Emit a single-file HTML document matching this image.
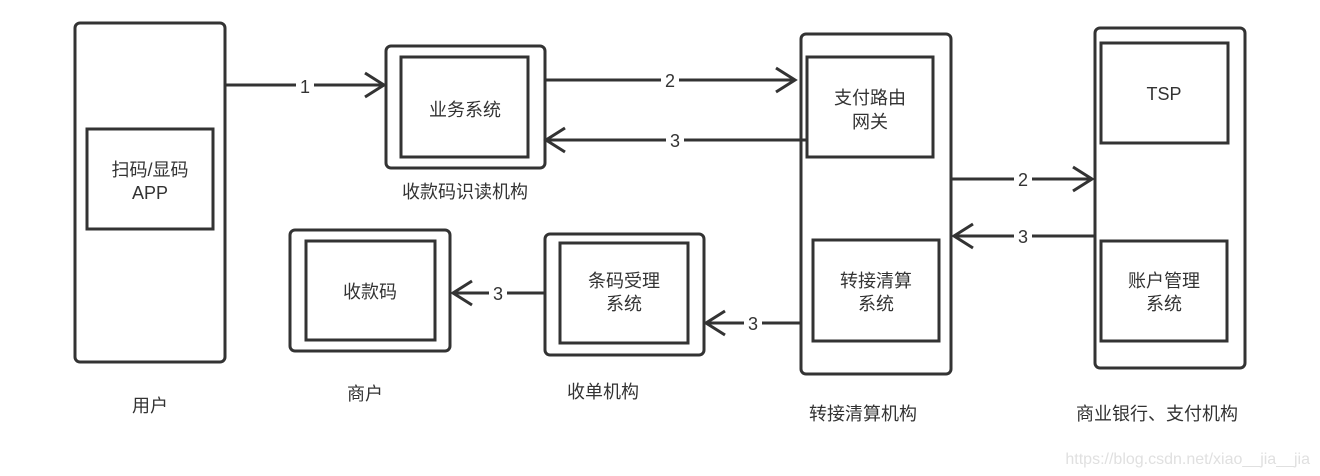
<!DOCTYPE html>
<html><head><meta charset="utf-8"><style>
html,body{margin:0;padding:0;background:#fff;}
svg{display:block;}
text{font-family:"Liberation Sans","Noto Sans CJK SC",sans-serif;fill:#333;font-size:18px;}
</style></head><body>
<svg width="1320" height="476" viewBox="0 0 1320 476" xmlns="http://www.w3.org/2000/svg">
<g fill="none" stroke="#333" stroke-width="3">
<!-- user -->
<rect x="75" y="23" width="150" height="339" rx="5"/>
<rect x="87" y="129" width="126" height="100"/>
<!-- reader -->
<rect x="386" y="46" width="159" height="122" rx="5"/>
<rect x="401" y="57" width="127" height="100"/>
<!-- switch -->
<rect x="801" y="34" width="150" height="340" rx="5"/>
<rect x="807" y="57" width="126" height="100"/>
<rect x="813" y="240" width="126" height="101"/>
<!-- bank -->
<rect x="1095" y="28" width="150" height="340" rx="5"/>
<rect x="1101" y="43" width="127" height="100"/>
<rect x="1101" y="241" width="126" height="100"/>
<!-- merchant -->
<rect x="290" y="230" width="160" height="121" rx="5"/>
<rect x="306" y="241" width="129" height="99"/>
<!-- acquirer -->
<rect x="545" y="234" width="159" height="121" rx="5"/>
<rect x="560" y="243" width="128" height="100"/>
<!-- connectors -->
<path d="M225 85H384M365 73L384 85L365 97"/>
<path d="M545 80H795M776 68L795 80L776 92"/>
<path d="M807 140H546M565 128L546 140L565 152"/>
<path d="M952 179H1092M1073 167L1092 179L1073 191"/>
<path d="M1095 236H954M973 224L954 236L973 248"/>
<path d="M545 293H453M472 281L453 293L472 305"/>
<path d="M800 323H706M725 311L706 323L725 335"/>
</g>
<g>
<rect x="296" y="76" width="18" height="20" fill="#fff"/>
<text x="305" y="93" text-anchor="middle">1</text>
<rect x="661" y="70" width="18" height="20" fill="#fff"/>
<text x="670" y="87" text-anchor="middle">2</text>
<rect x="666" y="130" width="18" height="20" fill="#fff"/>
<text x="675" y="147" text-anchor="middle">3</text>
<rect x="1014" y="169" width="18" height="20" fill="#fff"/>
<text x="1023" y="186" text-anchor="middle">2</text>
<rect x="1014" y="226" width="18" height="20" fill="#fff"/>
<text x="1023" y="243" text-anchor="middle">3</text>
<rect x="489" y="283" width="18" height="20" fill="#fff"/>
<text x="498" y="300" text-anchor="middle">3</text>
<rect x="744" y="313" width="18" height="20" fill="#fff"/>
<text x="753" y="330" text-anchor="middle">3</text>
</g>
<g text-anchor="middle">
<text x="150" y="176">扫码/显码</text>
<text x="150" y="199">APP</text>
<text x="465" y="116">业务系统</text>
<text x="870" y="104">支付路由</text>
<text x="870" y="128">网关</text>
<text x="876" y="287">转接清算</text>
<text x="876" y="310">系统</text>
<text x="1164" y="100">TSP</text>
<text x="1164" y="287">账户管理</text>
<text x="1164" y="310">系统</text>
<text x="370" y="298">收款码</text>
<text x="624" y="287">条码受理</text>
<text x="624" y="310">系统</text>
<text x="465" y="198">收款码识读机构</text>
<text x="150" y="412">用户</text>
<text x="365" y="400">商户</text>
<text x="603" y="398">收单机构</text>
<text x="863" y="420">转接清算机构</text>
<text x="1157" y="420">商业银行、支付机构</text>
</g>
<text x="1310" y="464" text-anchor="end" style="font-size:16px;fill:#e0e0e0">https://blog.csdn.net/xiao__jia__jia</text>
</svg>
</body></html>
